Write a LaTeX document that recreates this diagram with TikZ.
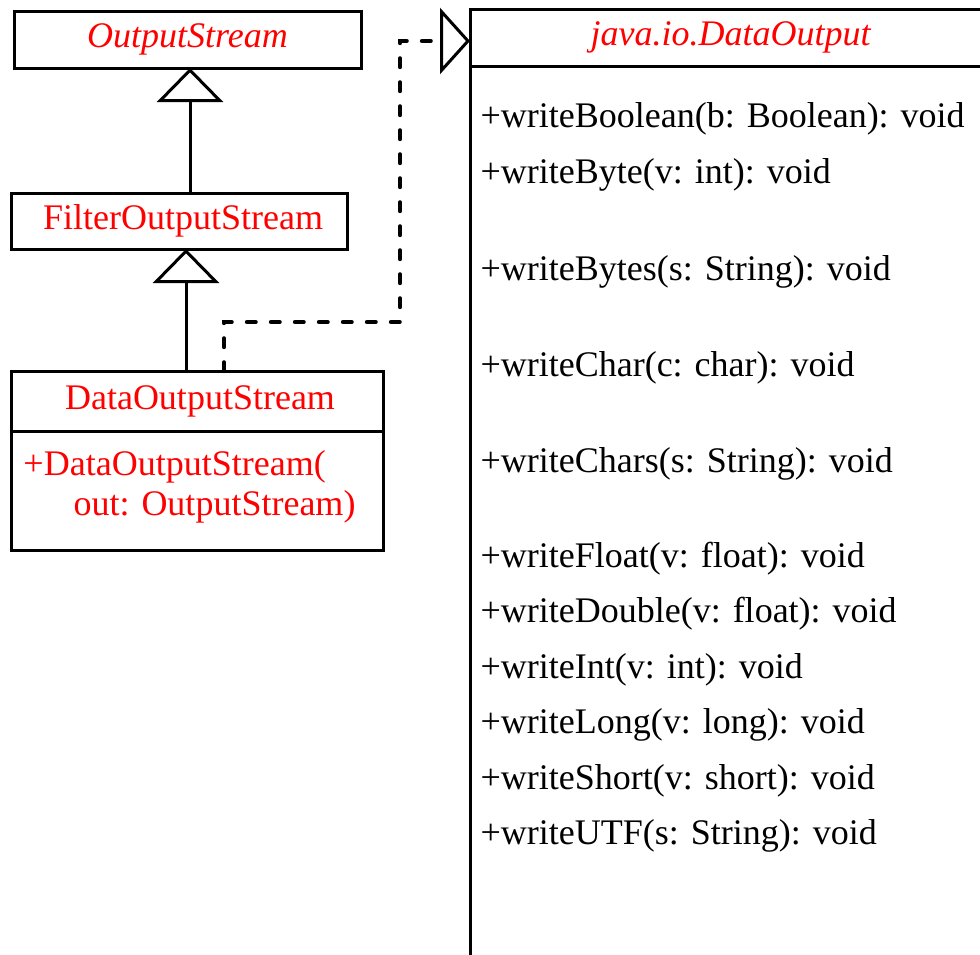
\documentclass[tikz,border=0pt]{standalone}
\usepackage{fontspec}
\setmainfont{Liberation Serif}
\usetikzlibrary{calc, arrows.meta}
\definecolor{umlred}{RGB}{255,0,0}

\begin{document}
\begin{tikzpicture}[x=0.5pt, y=-0.5pt, line width=1.5pt,
  every node/.style={font=\fontsize{18}{21}\selectfont},
  classbox/.style={draw, rectangle, inner sep=0pt, outer sep=0pt, text=umlred},
  member/.style={anchor=west, inner sep=0pt},
  extends/.style={-{Triangle[open, length=17pt, width=33pt, fill=white]}},
  realizes/.style={line width=2.2pt, line cap=round, dash pattern=on 4.3pt off 7.7pt,
    -{Triangle[open, length=15pt, width=33pt, fill=white, line width=1.5pt]}}]
\useasboundingbox (0,0) rectangle (980,954);
\clip (0,0) rectangle (980,954);
%Class boxes on the left
\coordinate (cOut) at (187.5,39.5);
\coordinate (cFilter) at (179,221);
\coordinate (cData) at (197,401);
\node [classbox, minimum width=173.5pt, minimum height=28.5pt] (outStream) at (cOut) {\textit{OutputStream}};
\node [classbox, minimum width=168pt, minimum height=28pt] (filterStream) at (cFilter) {\hspace*{4pt}FilterOutputStream};
\node [classbox, minimum width=186pt, minimum height=30pt] (dataStream) at (cData) {\hspace*{3pt}DataOutputStream};
%Body of DataOutputStream
\draw (dataStream.south west) rectangle ++(372,119);
\coordinate (ctor1) at (22,467);
\coordinate (ctor2) at (72,507);
\node [member, text=umlred] (ctorA) at (ctor1) {+DataOutputStream(};
\node [member, text=umlred] (ctorB) at (ctor2) {out: OutputStream)};
%Interface box on the right
\coordinate (cIface) at (731,37.5);
\node [classbox, minimum width=261pt, minimum height=28.5pt] (dataOutput) at (cIface) {\textit{java.io.DataOutput}};
\draw (dataOutput.south west) rectangle ++(522,920);
%Methods of the interface
\foreach \y/\txt [count=\i] in {
  119/{+writeBoolean(b: Boolean): void},
  175/{+writeByte(v: int): void},
  272/{+writeBytes(s: String): void},
  368/{+writeChar(c: char): void},
  464/{+writeChars(s: String): void},
  559/{+writeFloat(v: float): void},
  614/{+writeDouble(v: float): void},
  670/{+writeInt(v: int): void},
  725/{+writeLong(v: long): void},
  781/{+writeShort(v: short): void},
  836/{+writeUTF(s: String): void}} {
  \node [member] (method\i) at (479,\y) {\txt};
}
%Inheritance
\coordinate (gen1) at ($(outStream.south)+(2.5,0)$);
\coordinate (gen2) at ($(filterStream.south)+(7,0)$);
\draw [extends] (filterStream.north -| gen1) -- (gen1);
\draw [extends] (dataStream.north -| gen2) -- (gen2);
%Realization of the interface
\coordinate (real0) at ($(dataStream.north)+(27,0)$);
\coordinate (bendA) at (400,322);
\coordinate (ifaceTip) at ($(dataOutput.west)+(0,3.5)$);
\draw [realizes] (real0) |- (bendA) |- (ifaceTip);
\end{tikzpicture}
\end{document}
